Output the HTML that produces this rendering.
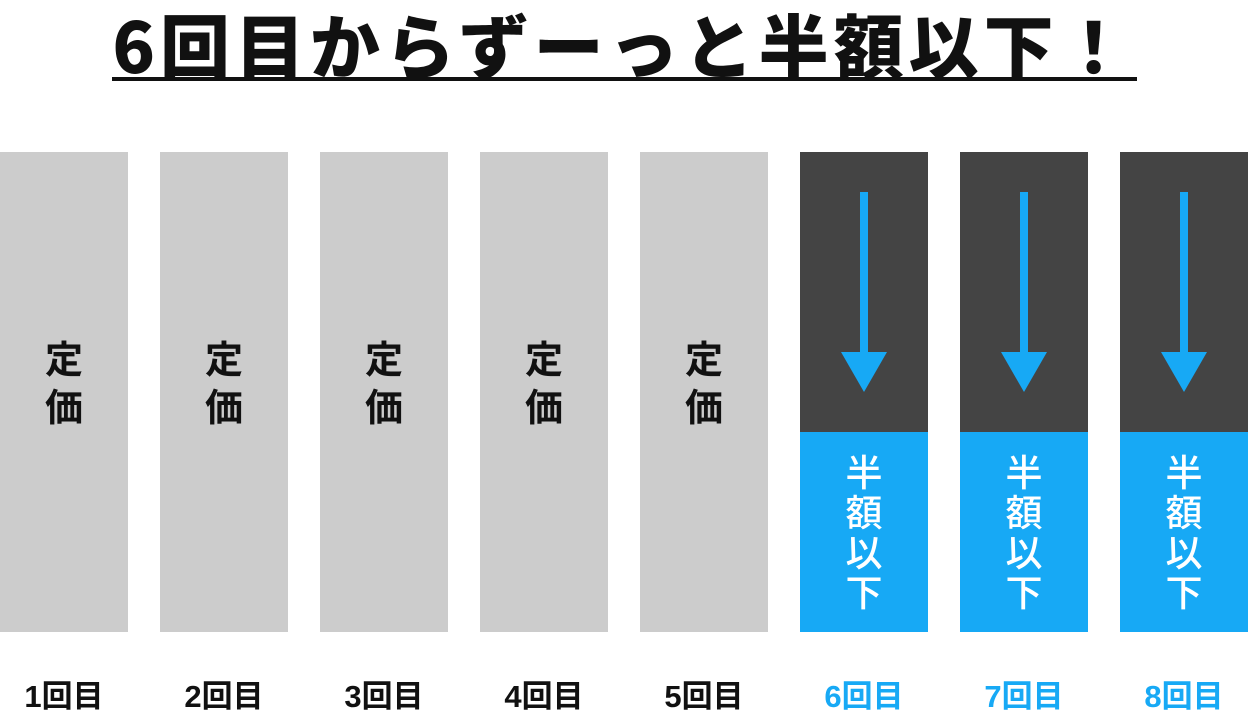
<!DOCTYPE html>
<html><head><meta charset="utf-8"><style>
body{margin:0;width:1248px;height:728px;background:#fff;position:relative;overflow:hidden;font-family:"Liberation Sans","Noto Sans CJK JP",sans-serif}
.t{position:absolute;left:0;width:1248px;top:1px;text-align:center;font-family:"Noto Sans CJK JP",sans-serif;font-size:70px;font-weight:900;color:#111;line-height:86px;letter-spacing:5px;text-indent:-2px;white-space:nowrap}
.u{position:absolute;left:112px;width:1025px;top:77px;height:4px;background:#111}
.c{position:absolute;top:152px;width:128px;height:480px;background:#cccccc}
.d{background:#444}
.b{position:absolute;left:0;top:280px;width:128px;height:200px;background:#17a9f5}
.v{position:absolute;left:0;width:128px;text-align:center;font-weight:700;font-size:38px;line-height:48px;color:#111}
.w{position:absolute;left:0;width:128px;text-align:center;font-weight:500;font-size:37px;line-height:40px;color:#fff;top:22px}
.s{position:absolute;left:60px;top:40px;width:8px;height:165px;background:#17a9f5}
.h{position:absolute;left:41px;top:200px;width:0;height:0;border-left:23px solid transparent;border-right:23px solid transparent;border-top:40px solid #17a9f5}
.l{position:absolute;top:677px;width:128px;text-align:center;font-weight:700;font-size:31px;line-height:40px;color:#111}
.bl{color:#17a9f5}
</style></head><body>
<div class="t">6回目からずーっと半額以下！</div>
<div class="u"></div>
<div class="c" style="left:0"><div class="v" style="top:185px">定<br>価</div></div>
<div class="c" style="left:160px"><div class="v" style="top:185px">定<br>価</div></div>
<div class="c" style="left:320px"><div class="v" style="top:185px">定<br>価</div></div>
<div class="c" style="left:480px"><div class="v" style="top:185px">定<br>価</div></div>
<div class="c" style="left:640px"><div class="v" style="top:185px">定<br>価</div></div>
<div class="c d" style="left:800px"><div class="s"></div><div class="h"></div><div class="b"><div class="w">半<br>額<br>以<br>下</div></div></div>
<div class="c d" style="left:960px"><div class="s"></div><div class="h"></div><div class="b"><div class="w">半<br>額<br>以<br>下</div></div></div>
<div class="c d" style="left:1120px"><div class="s"></div><div class="h"></div><div class="b"><div class="w">半<br>額<br>以<br>下</div></div></div>
<div class="l" style="left:0">1回目</div>
<div class="l" style="left:160px">2回目</div>
<div class="l" style="left:320px">3回目</div>
<div class="l" style="left:480px">4回目</div>
<div class="l" style="left:640px">5回目</div>
<div class="l bl" style="left:800px">6回目</div>
<div class="l bl" style="left:960px">7回目</div>
<div class="l bl" style="left:1120px">8回目</div>
</body></html>
